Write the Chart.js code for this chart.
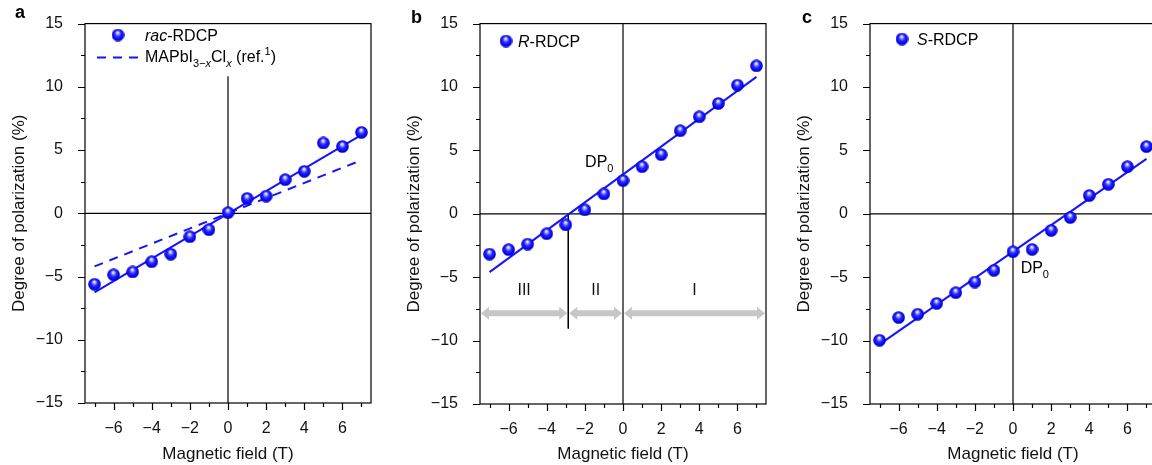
<!DOCTYPE html>
<html>
<head>
<meta charset="utf-8">
<script src="https://cdn.jsdelivr.net/npm/chart.js@4.4.1/dist/chart.umd.min.js"></script>
<style>
  html, body { margin: 0; padding: 0; background: #fff; overflow: hidden; }
  body { width: 1152px; height: 465px; position: relative; }
  .panel { position: absolute; top: 0; width: 390px; height: 465px; }
</style>
</head>
<body>
<div class="panel" style="left:0px"><canvas id="chartA" width="390" height="465"></canvas></div>
<div class="panel" style="left:395px"><canvas id="chartB" width="390" height="465"></canvas></div>
<div class="panel" style="left:785px"><canvas id="chartC" width="390" height="465"></canvas></div>
<script>
// field values (T) shared by the three panels
const fieldT = [-7, -6, -5, -4, -3, -2, -1, 0, 1, 2, 3, 4, 5, 6, 7];
// degree of polarization (%)
const racDP = [-5.61, -4.86, -4.64, -3.83, -3.23, -1.85, -1.3, 0.05, 1.18, 1.36, 2.66, 3.32, 5.56, 5.28, 6.4];
const rDP = [-3.18, -2.83, -2.39, -1.57, -0.87, 0.31, 1.57, 2.62, 3.72, 4.67, 6.55, 7.65, 8.7, 10.15, 11.67];
const sDP = [-9.97, -8.18, -7.92, -7.06, -6.22, -5.38, -4.46, -2.99, -2.81, -1.31, -0.29, 1.44, 2.33, 3.72, 5.3];

// linear fits, given at the ends of the field range
const fitEnds = [-7, 7];
const racFit = [-6.25, 6.2];
const mapbiFit = [-4.2, 4.2];
const rFit = [-4.6, 10.8];
const sFit = [-10.3, 4.33];

// regions of panel b
const regionBounds = [-7.5, -2.87, 0, 7.5];
const regionNames = ['III', 'II', 'I'];

const xTicks = [-7, -6, -5, -4, -3, -2, -1, 0, 1, 2, 3, 4, 5, 6, 7];
const yTicks = [-15, -12.5, -10, -7.5, -5, -2.5, 0, 2.5, 5, 7.5, 10, 12.5, 15];

const FONT = '"Liberation Sans", Arial, Helvetica, sans-serif';
const BLUE = '#1414ff';
Chart.defaults.font.family = FONT;
Chart.defaults.color = '#111';

function makeSphere(d) {
    const c = document.createElement('canvas');
    c.width = d; c.height = d;
    const g = c.getContext('2d');
    const r = d / 2;
    const grad = g.createRadialGradient(r * 0.95, r * 0.6, r * 0.05, r, r, r);
    grad.addColorStop(0, '#ffffff');
    grad.addColorStop(0.2, '#a0a0ff');
    grad.addColorStop(0.45, '#2a2aff');
    grad.addColorStop(0.85, '#0000e6');
    grad.addColorStop(1, '#0000a8');
    g.fillStyle = grad;
    g.beginPath();
    g.arc(r, r, r - 0.2, 0, Math.PI * 2);
    g.fill();
    return c;
}
const sphere = makeSphere(13);

const pts = (xs, ys) => xs.map((x, i) => ({ x, y: ys[i] }));
const minus = v => (v < 0 ? '\u2212' + Math.abs(v) : String(v));

// text with italic / subscript / superscript runs
function drawRich(ctx, x, y, parts, align) {
    const fontFor = s => {
        const small = s.includes('sub') || s.includes('sup');
        return (s.includes('i') ? 'italic ' : '') + (small ? 11 : 16) + 'px ' + FONT;
    };
    if (align === 'right') {
        let w = 0;
        parts.forEach(([t, s]) => { ctx.font = fontFor(s); w += ctx.measureText(t).width; });
        x -= w;
    }
    ctx.textAlign = 'left';
    ctx.textBaseline = 'alphabetic';
    parts.forEach(([t, s]) => {
        ctx.font = fontFor(s);
        const dy = s.includes('sub') ? 5 : s.includes('sup') ? -7 : 0;
        ctx.fillText(t, x, y + dy);
        x += ctx.measureText(t).width;
    });
}

// box around the plot and outward tick marks
const frameTicks = {
    id: 'frameTicks',
    afterDatasetsDraw(chart) {
        const { ctx, chartArea: a, scales: { x, y } } = chart;
        ctx.save();
        ctx.strokeStyle = '#000';
        ctx.lineWidth = 1.2;
        ctx.strokeRect(a.left, a.top, a.right - a.left, a.bottom - a.top);
        ctx.beginPath();
        x.ticks.forEach(t => {
            const px = Math.round(x.getPixelForValue(t.value)) + 0.5;
            ctx.moveTo(px, a.bottom);
            ctx.lineTo(px, a.bottom + (t.value % 2 === 0 ? 7 : 4));
        });
        y.ticks.forEach(t => {
            const py = Math.round(y.getPixelForValue(t.value)) + 0.5;
            ctx.moveTo(a.left, py);
            ctx.lineTo(a.left - (t.value % 5 === 0 ? 7 : 4), py);
        });
        ctx.stroke();
        ctx.restore();
    }
};

function doubleArrow(ctx, x1, x2, y) {
    const shaft = 3, head = 6.5, len = 8;
    ctx.beginPath();
    ctx.moveTo(x1, y);
    ctx.lineTo(x1 + len, y - head);
    ctx.lineTo(x1 + len, y - shaft);
    ctx.lineTo(x2 - len, y - shaft);
    ctx.lineTo(x2 - len, y - head);
    ctx.lineTo(x2, y);
    ctx.lineTo(x2 - len, y + head);
    ctx.lineTo(x2 - len, y + shaft);
    ctx.lineTo(x1 + len, y + shaft);
    ctx.lineTo(x1 + len, y + head);
    ctx.closePath();
    ctx.fill();
}

function buildChart(id, cfg) {
    const datasets = [
        { data: pts(fieldT, cfg.values), pointStyle: sphere, pointRadius: 6.5, showLine: false },
        { data: pts(fitEnds, cfg.fit), showLine: true, borderColor: BLUE, borderWidth: 2, pointRadius: 0 }
    ];
    if (cfg.refFit) {
        datasets.push({ data: pts(fitEnds, cfg.refFit), showLine: true, borderColor: BLUE,
            borderWidth: 2, borderDash: [9, 7], pointRadius: 0 });
    }
    datasets.push({ data: [{ x: -7.5, y: 0 }, { x: 7.5, y: 0 }], showLine: true,
        borderColor: '#000', borderWidth: 1.2, pointRadius: 0 });
    datasets.push({ data: [{ x: 0, y: -15 }, { x: 0, y: cfg.zeroTop }], showLine: true,
        borderColor: '#000', borderWidth: 1.2, pointRadius: 0 });
    (cfg.extraLines || []).forEach(l => datasets.push({ data: l, showLine: true,
        borderColor: '#000', borderWidth: 1, pointRadius: 0 }));

    const decor = {
        id: 'decor' + id,
        afterDraw(chart) {
            const { ctx } = chart;
            ctx.save();
            ctx.fillStyle = '#000';
            ctx.font = 'bold 18px ' + FONT;
            ctx.textAlign = 'left';
            ctx.textBaseline = 'alphabetic';
            ctx.fillText(cfg.letter, cfg.letterAt[0], cfg.letterAt[1]);
            cfg.draw(chart, ctx);
            ctx.restore();
        }
    };

    return new Chart(document.getElementById(id), {
        type: 'scatter',
        data: { datasets },
        options: {
            responsive: false,
            animation: false,
            events: [],
            layout: { padding: { top: cfg.top, right: 19, left: 0, bottom: 0 } },
            plugins: { legend: { display: false }, tooltip: { enabled: false } },
            scales: {
                x: {
                    min: -7.5, max: 7.5,
                    afterBuildTicks: s => { s.ticks = xTicks.map(v => ({ value: v })); },
                    afterFit: s => { s.height = cfg.xHeight; },
                    grid: { display: false },
                    border: { display: false },
                    ticks: { autoSkip: false, maxRotation: 0, padding: 8, color: '#111',
                        font: { size: 16 },
                        callback: v => (v % 2 === 0 ? minus(v) : '') },
                    title: { display: true, text: 'Magnetic field (T)', color: '#111',
                        font: { size: 17 }, padding: { top: 0, bottom: 0 } }
                },
                y: {
                    min: -15, max: 15,
                    afterBuildTicks: s => { s.ticks = yTicks.map(v => ({ value: v })); },
                    afterFit: s => { s.width = 85; },
                    grid: { display: false },
                    border: { display: false },
                    ticks: { autoSkip: false, padding: 14, color: '#111', font: { size: 16 },
                        callback: v => (v % 5 === 0 ? minus(v) : '') },
                    title: { display: true, text: 'Degree of polarization (%)', color: '#111',
                        font: { size: 17 }, padding: { top: 9, bottom: 0 } }
                }
            }
        },
        plugins: [frameTicks, decor]
    });
}

buildChart('chartA', {
    values: racDP, fit: racFit, refFit: mapbiFit, zeroTop: 10.84,
    top: 20, xHeight: 62, letter: 'a', letterAt: [15, 18],
    draw(chart, ctx) {
        ctx.drawImage(sphere, 118 - 6.5, 35 - 6.5);
        drawRich(ctx, 145, 40.7, [['rac', 'i'], ['-RDCP', '']]);
        ctx.strokeStyle = BLUE;
        ctx.lineWidth = 2;
        ctx.setLineDash([9, 7]);
        ctx.beginPath();
        ctx.moveTo(97, 57.5);
        ctx.lineTo(138, 57.5);
        ctx.stroke();
        ctx.setLineDash([]);
        drawRich(ctx, 145, 61.7, [['MAPbI', ''], ['3\u2212', 'sub'], ['x', 'subi'], ['Cl', ''],
            ['x', 'subi'], [' (ref.', ''], ['1', 'sup'], [')', '']]);
    }
});

buildChart('chartB', {
    values: rDP, fit: rFit, zeroTop: 15,
    extraLines: [[{ x: regionBounds[1], y: 0 }, { x: regionBounds[1], y: -9.05 }]],
    top: 23, xHeight: 61, letter: 'b', letterAt: [16, 23],
    draw(chart, ctx) {
        const { x, y } = chart.scales;
        ctx.drawImage(sphere, 111 - 6.5, 41 - 6.5);
        drawRich(ctx, 123, 46.7, [['R', 'i'], ['-RDCP', '']]);
        drawRich(ctx, x.getPixelForValue(-0.5), y.getPixelForValue(3.67),
            [['DP', ''], ['0', 'sub']], 'right');
        const ay = y.getPixelForValue(-7.84);
        ctx.fillStyle = '#c6c6c6';
        for (let i = 0; i < regionNames.length; i++) {
            const x1 = x.getPixelForValue(regionBounds[i]) + 1;
            const x2 = x.getPixelForValue(regionBounds[i + 1]) - 1;
            doubleArrow(ctx, x1, x2, ay);
        }
        ctx.fillStyle = '#111';
        ctx.font = '16px ' + FONT;
        ctx.textAlign = 'center';
        regionNames.forEach((n, i) => {
            const cx = x.getPixelForValue((regionBounds[i] + regionBounds[i + 1]) / 2);
            ctx.fillText(n, cx, y.getPixelForValue(-6.43));
        });
    }
});

buildChart('chartC', {
    values: sDP, fit: sFit, zeroTop: 15,
    top: 23, xHeight: 61, letter: 'c', letterAt: [17, 23],
    draw(chart, ctx) {
        const { x, y } = chart.scales;
        ctx.drawImage(sphere, 117 - 6.5, 39 - 6.5);
        drawRich(ctx, 132, 45, [['S', 'i'], ['-RDCP', '']]);
        drawRich(ctx, x.getPixelForValue(0.4), y.getPixelForValue(-4.7), [['DP', ''], ['0', 'sub']]);
    }
});
</script>
</body>
</html>
